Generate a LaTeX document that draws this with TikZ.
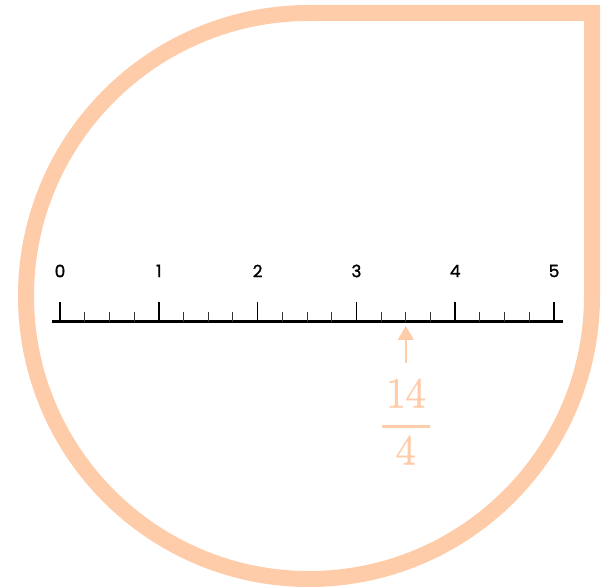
\documentclass[tikz,border=0pt]{standalone}
\usepackage{amsmath,amssymb}
\usepackage{fontspec}
\newfontfamily\ticknum[FakeBold=1.2]{Poppins}
\newfontfamily\fracnum[FakeBold=1.5]{Latin Modern Roman}
\usetikzlibrary{arrows.meta, positioning}

\begin{document}
\begin{tikzpicture}[x=1pt, y=1pt, >=Triangle, every node/.style={align=center}]
      \colorlet{peach}{rgb,255:red,255;green,204;blue,170}
      \useasboundingbox (0,0) rectangle (610,588);
      % frame
      \draw[draw=peach, line width=16pt, line join=miter] (309,575) arc[start angle=90, end angle=360, radius=283] -- (592,575) -- cycle;
      % number line
      \coordinate (lstart) at (52,266);
      \coordinate (lend) at (563,266);
      \draw[line width=3pt] (lstart) -- (lend);
      \foreach \i in {0,...,19} {
        \draw[line width=1pt, black!80] ({60+\i*98.8/4},266) -- ++(0,10);
      }
      \foreach \i in {0,...,5} {
        \draw[line width=1.6pt] ({60+\i*98.8},266) -- ++(0,20);
        \node[font=\ticknum\fontsize{17}{17}\selectfont] (l\i) at ({60+\i*98.8},317) {\i};
      }
      % marker
      \coordinate (tail) at (405.8,225);
      \coordinate (tip) at (405.8,262);
      \draw[-{Triangle[length=14pt, width=16pt]}, draw=peach, fill=peach, line width=1.5pt] (tail) -- (tip);
      \node[text=peach, font=\fracnum\fontsize{43}{43}\selectfont, inner sep=0pt] (num) at (405.8,195) {14};
      \node[text=peach, font=\fracnum\fontsize{43}{43}\selectfont, inner sep=0pt] (den) at (405.8,138) {4};
      \draw[draw=peach, line width=3pt] (382,161) -- (430,161);
    \end{tikzpicture}
\end{document}
